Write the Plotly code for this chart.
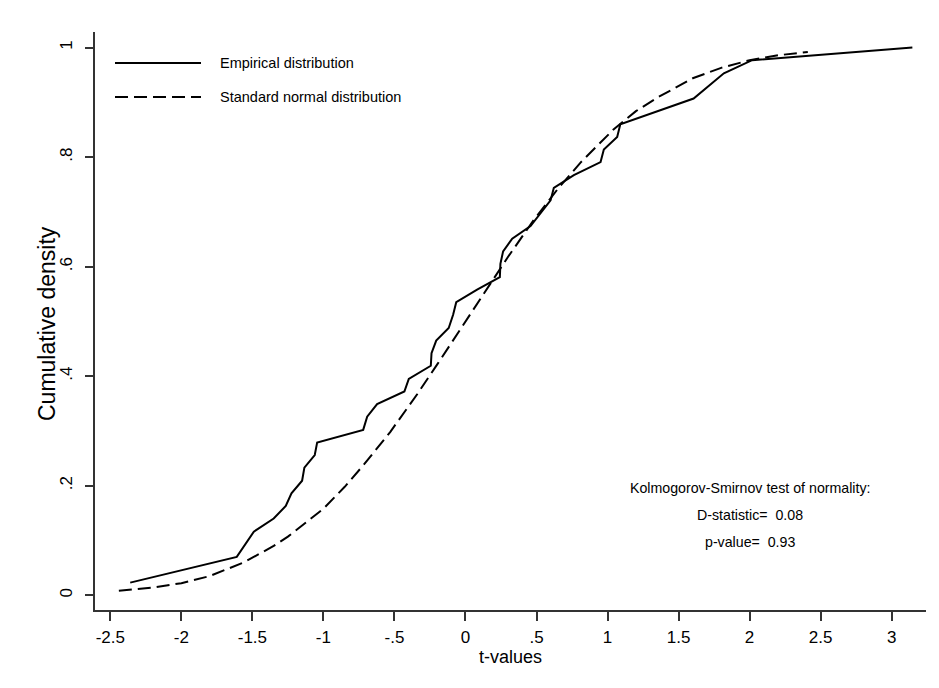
import plotly.graph_objects as go

# Empirical cumulative distribution
emp_x = [-2.36, -1.61, -1.49, -1.35, -1.265, -1.225, -1.15, -1.134, -1.061, -1.044,
         -0.72, -0.692, -0.622, -0.43, -0.399, -0.244, -0.239, -0.206, -0.118, -0.087,
         -0.065, 0.082, 0.242, 0.246, 0.265, 0.329, 0.458, 0.599, 0.622, 0.763,
         0.951, 0.974, 1.068, 1.09, 1.606, 1.819, 2.018, 3.146]
emp_y = [0.023, 0.070, 0.116, 0.140, 0.163, 0.186, 0.209, 0.233, 0.256, 0.279,
         0.302, 0.326, 0.349, 0.372, 0.395, 0.419, 0.442, 0.465, 0.488, 0.512,
         0.535, 0.558, 0.581, 0.605, 0.628, 0.651, 0.674, 0.721, 0.744, 0.767,
         0.791, 0.814, 0.837, 0.860, 0.907, 0.953, 0.977, 1.000]

# Standard normal distribution curve
norm_x = [-2.44, -2.2, -2.0, -1.8, -1.56, -1.35, -1.25, -1.0, -0.85, -0.72,
          -0.53, -0.34, -0.2, 0.0, 0.13, 0.3, 0.48, 0.65, 0.81, 1.04,
          1.2, 1.36, 1.6, 1.8, 2.0, 2.2, 2.41]
norm_y = [0.008, 0.014, 0.022, 0.035, 0.060, 0.090, 0.107, 0.158, 0.198, 0.237,
          0.298, 0.367, 0.421, 0.500, 0.552, 0.618, 0.685, 0.742, 0.790, 0.850,
          0.884, 0.910, 0.944, 0.963, 0.977, 0.986, 0.992]

x_ticks = [-2.5, -2, -1.5, -1, -0.5, 0, 0.5, 1, 1.5, 2, 2.5, 3]
x_tick_labels = ["-2.5", "-2", "-1.5", "-1", "-.5", "0", ".5", "1", "1.5", "2", "2.5", "3"]
y_ticks = [0, 0.2, 0.4, 0.6, 0.8, 1]
y_tick_labels = ["0", ".2", ".4", ".6", ".8", "1"]

legend_labels = ["Empirical distribution", "Standard normal distribution"]
ks_lines = ["Kolmogorov-Smirnov test of normality:", "D-statistic=  0.08", "p-value=  0.93"]
x_title = "t-values"
y_title = "Cumulative density"

FONT = "Liberation Sans, Arial, sans-serif"
OFF = 8  # page body margin
W, H = 931, 680
L, R, T, B = 87, 13, 24, 78
pw, ph = W - L - R, H - T - B


def px(xp):
    return (xp - OFF - L) / pw


def py(yp):
    return (H - B - (yp - OFF)) / ph


fig = go.Figure()
fig.add_trace(go.Scatter(x=norm_x, y=norm_y, mode="lines", name=legend_labels[1],
                         line=dict(color="black", width=2, dash="13px,6px"), showlegend=False))
fig.add_trace(go.Scatter(x=emp_x, y=emp_y, mode="lines", name=legend_labels[0],
                         line=dict(color="black", width=2), showlegend=False))

shapes = [
    dict(type="line", xref="paper", yref="paper", x0=px(115), x1=px(201), y0=py(63), y1=py(63),
         line=dict(color="black", width=2)),
    dict(type="line", xref="paper", yref="paper", x0=px(115), x1=px(201), y0=py(97), y1=py(97),
         line=dict(color="black", width=2, dash="13px,6px")),
]

annotations = [
    dict(text=legend_labels[0], xref="paper", yref="paper", x=px(218), y=py(63),
         xanchor="left", yanchor="middle", showarrow=False, font=dict(size=14.5, color="black", family=FONT)),
    dict(text=legend_labels[1], xref="paper", yref="paper", x=px(218), y=py(97),
         xanchor="left", yanchor="middle", showarrow=False, font=dict(size=14.5, color="black", family=FONT)),
    dict(text=y_title, xref="paper", yref="paper", x=px(47), y=py(324), textangle=-90,
         xanchor="center", yanchor="middle", showarrow=False, font=dict(size=23, color="black", family=FONT)),
]
for t, yy in zip(ks_lines, [488, 515, 542]):
    annotations.append(dict(text=t, xref="paper", yref="paper", x=px(749.5), y=py(yy),
                            xanchor="center", yanchor="middle", showarrow=False,
                            font=dict(size=14.2, color="black", family=FONT)))

fig.update_layout(
    width=W, height=H,
    margin=dict(l=L, r=R, t=T, b=B, pad=0),
    paper_bgcolor="white", plot_bgcolor="white",
    font=dict(family=FONT, color="black"),
    shapes=shapes, annotations=annotations,
    xaxis=dict(range=[-2.608, 3.242], tickvals=x_ticks, ticktext=x_tick_labels,
               showgrid=False, zeroline=False, showline=True, linecolor="#333", linewidth=2,
               ticks="outside", ticklen=9, tickwidth=1.5, tickcolor="#333",
               ticklabelstandoff=2,
               tickfont=dict(size=17, family=FONT),
               title=dict(text=x_title, font=dict(size=18, family=FONT), standoff=1)),
    yaxis=dict(range=[-0.027, 1.0285], tickvals=y_ticks, ticktext=y_tick_labels,
               showgrid=False, zeroline=False, showline=True, linecolor="#333", linewidth=2,
               ticks="outside", ticklen=8, tickwidth=1.5, tickcolor="#333",
               tickangle=-90, ticklabelstandoff=6, tickfont=dict(size=17, family=FONT)),
)

fig.write_html("out.html")
